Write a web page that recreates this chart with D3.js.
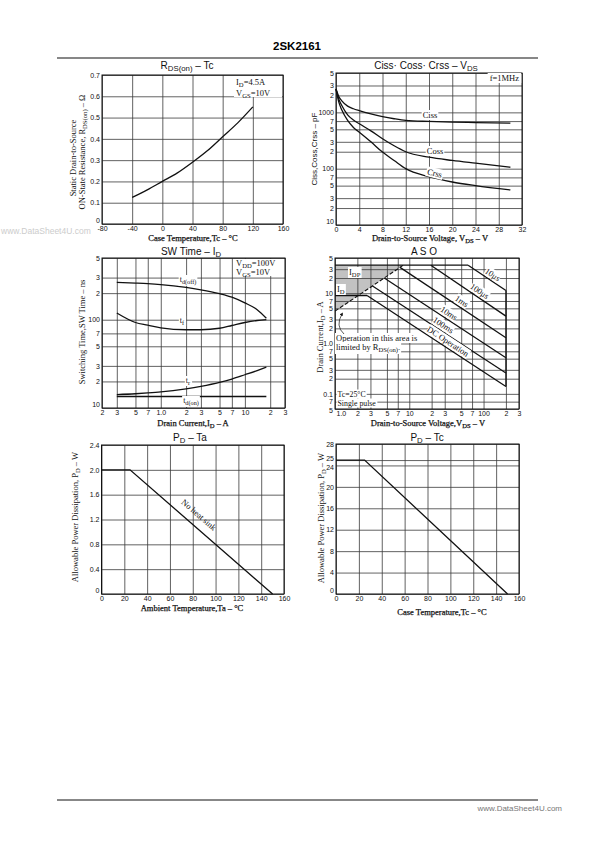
<!DOCTYPE html>
<html><head><meta charset="utf-8">
<script src="https://cdn.jsdelivr.net/npm/d3@7"></script>
<style>body{margin:0;background:#fff}svg{display:block}</style>
</head><body>
<svg id="c" width="595" height="842"></svg>
<script>
// ---------------- DATA ----------------
// R_DS(on) - Tc
const rdsTc = [-40, -20, 0, 20, 40, 60, 80, 100, 120];
const rdsOhm = [0.125, 0.16, 0.2, 0.24, 0.29, 0.345, 0.41, 0.475, 0.55];
const rdsXTicks = [-80, -40, 0, 40, 80, 120, 160];
const rdsYTicks = [0, 0.1, 0.2, 0.3, 0.4, 0.5, 0.6, 0.7];
const rdsYLabels = ["0", "0.1", "0.2", "0.3", "0.4", "0.5", "0.6", "0.7"];

// Ciss, Coss, Crss - VDS
const capVds = [0, 0.5, 1, 2, 3, 4, 6, 8, 10, 12, 16, 20, 24, 30];
const cissPF = [2600, 1900, 1600, 1290, 1160, 1075, 940, 840, 770, 720, 690, 670, 660, 645];
const cossPF = [2600, 1700, 1320, 900, 730, 627, 470, 340, 255, 200, 160, 140, 125, 106];
const crssPF = [2600, 1500, 1100, 720, 540, 445, 300, 197, 140, 100, 72, 58, 50, 42];
const capXTicks = [0, 4, 8, 12, 16, 20, 24, 28, 32];
const capYTicks = [5000, 3000, 2000, 1000, 700, 500, 300, 200, 100, 70, 50, 30, 20, 10];
const capYLabels = ["5", "3", "2", "1000", "7", "5", "3", "2", "100", "7", "5", "3", "2", "10"];

// SW Time - ID
const swId = [0.3, 0.5, 0.7, 1, 2, 3, 5, 7, 10, 14, 18];
const swTdOff = [265, 260, 256, 250, 232, 218, 197, 180, 155, 130, 104];
const swTf = [119, 93, 87, 81, 77, 77, 80, 86, 93, 98, 100];
const swTr = [14.2, 14.5, 14.8, 15.2, 16.5, 17.6, 19.5, 21.3, 23.8, 26.5, 29];
const swTdOnId = [0.3, 18];
const swTdOn = [13.5, 13.5];
const swXTicks = [0.2, 0.3, 0.5, 0.7, 1, 2, 3, 5, 7, 10, 20, 30];
const swXLabels = ["2", "3", "5", "7", "1.0", "2", "3", "5", "7", "10", "2", "3"];
const swYTicks = [500, 300, 200, 100, 70, 50, 30, 20, 10];
const swYLabels = ["5", "3", "2", "100", "7", "5", "3", "2", "10"];

// ASO
const asoIdp = 36, asoId = 9, asoVdss = 200;
const asoRdsV = [1, 8.3];
const asoRdsI = [4.4, 36];
const asoNames = ["10\u03bcs", "100\u03bcs", "1ms", "10ms", "100ms", "DC Operation"];
const asoStartV = [62, 19.5, 7.5, 4.6, 3.2, 2.7];
const asoStartI = [36, 36, 32.6, 20, 13.9, 9];
const asoEndI = [11.3, 3.5, 1.3, 0.52, 0.26, 0.14];
const asoXTicks = [1, 2, 3, 5, 7, 10, 20, 30, 50, 70, 100, 200, 300];
const asoXLabels = ["1.0", "2", "3", "5", "7", "10", "2", "3", "5", "7", "100", "2", "3"];
const asoYTicks = [50, 30, 20, 10, 7, 5, 3, 2, 1, 0.7, 0.5, 0.3, 0.2, 0.1, 0.07, 0.05];
const asoYLabels = ["5", "3", "2", "10", "7", "5", "3", "2", "1.0", "7", "5", "3", "2", "0.1", "7", "5"];

// PD - Ta
const pdTaT = [0, 25, 150];
const pdTaP = [2.0, 2.0, 0];
const pdTaXTicks = [0, 20, 40, 60, 80, 100, 120, 140, 160];
const pdTaYTicks = [0, 0.4, 0.8, 1.2, 1.6, 2.0, 2.4];
const pdTaYLabels = ["0", "0.4", "0.8", "1.2", "1.6", "2.0", "2.4"];

// PD - Tc
const pdTcT = [0, 25, 150];
const pdTcP = [25, 25, 0];
const pdTcXTicks = [0, 20, 40, 60, 80, 100, 120, 140, 160];
const pdTcYTicks = [0, 4, 8, 12, 16, 20, 24, 25, 28];
const pdTcYLabels = ["0", "4", "8", "12", "16", "20", "24", "25", "28"];

// ---------------- DRAWING ----------------
const SANS = "'Liberation Sans', Arial, sans-serif";
const NARROW = "'Liberation Sans Narrow', 'Liberation Sans', Arial, sans-serif";
const SERIF = "'Liberation Serif', 'Times New Roman', serif";
const svg = d3.select("#c");
const under = svg.append("g");
const main = svg.append("g");

function rich(sel, parts) {
  parts.forEach((p, i) => {
    const t = sel.append("tspan").text(p);
    if (i % 2 === 1) t.attr("dy", 2).attr("font-size", "0.78em");
    else if (i > 0) t.attr("dy", -2);
  });
  return sel;
}
function txt(x, y, parts, opt = {}) {
  const t = main.append("text").attr("x", x).attr("y", y)
    .attr("font-family", opt.font || SERIF).attr("font-size", opt.size || 8.5)
    .attr("fill", opt.fill || "#111").attr("text-anchor", opt.anchor || "middle");
  if (opt.rot !== undefined) t.attr("transform", `rotate(${opt.rot},${x},${y})`);
  if (opt.weight) t.attr("font-weight", opt.weight);
  if (opt.stroke) t.attr("stroke", "#111").attr("stroke-width", opt.stroke);
  rich(t, parts);
  return t;
}
function bg(t, pad = 1) {
  const b = t.node().getBBox();
  const r = main.insert("rect", () => t.node())
    .attr("x", b.x - pad).attr("y", b.y).attr("width", b.width + 2 * pad).attr("height", b.height)
    .attr("fill", "#fff");
  const tr = t.attr("transform");
  if (tr) r.attr("transform", tr);
}
function panel(x, y, xt, xl, yt, yl) {
  const g = main.append("g");
  const [x0, x1] = x.range(), [y0, y1] = y.range();
  g.append("g").attr("class", "xax").attr("transform", `translate(0,${y0})`)
    .call(d3.axisBottom(x).tickValues(xt).tickFormat((d, i) => xl ? xl[i] : d)
      .tickSize(-(y0 - y1)).tickPadding(2));
  g.append("g").attr("class", "yax").attr("transform", `translate(${x0},0)`)
    .call(d3.axisLeft(y).tickValues(yt).tickFormat((d, i) => yl ? yl[i] : d)
      .tickSize(-(x1 - x0)).tickPadding(2));
  g.selectAll(".domain").remove();
  g.selectAll(".tick line").attr("stroke", "#3a3a3a").attr("stroke-width", 0.8);
  g.selectAll(".tick text").attr("font-family", NARROW).attr("font-size", 7).attr("fill", "#111");
  g.append("rect").attr("x", x0).attr("y", y1).attr("width", x1 - x0).attr("height", y0 - y1)
    .attr("fill", "none").attr("stroke", "#111").attr("stroke-width", 1);
  return g;
}
function liftBottomY(g, v, dy = "-0.15em") {
  g.select(".yax").selectAll(".tick text").filter(d => d === v).attr("dy", dy);
}
function curve(x, y, xs, ys, c = d3.curveMonotoneX, w = 1.3) {
  const pts = xs.map((v, i) => [v, ys[i]]);
  main.append("path").datum(pts).attr("fill", "none").attr("stroke", "#111").attr("stroke-width", w)
    .attr("d", d3.line().x(d => x(d[0])).y(d => y(d[1])).curve(c));
}
const AX = {stroke: 0.25};

// Header/footer
main.append("text").attr("x", 297).attr("y", 50).attr("text-anchor", "middle")
  .attr("font-family", SANS).attr("font-weight", "bold").attr("font-size", 11.5).text("2SK2161");
main.append("line").attr("x1", 57).attr("x2", 538).attr("y1", 58).attr("y2", 58).attr("stroke", "#111").attr("stroke-width", 1.2);
main.append("line").attr("x1", 57).attr("x2", 538).attr("y1", 800).attr("y2", 800).attr("stroke", "#111").attr("stroke-width", 1);
main.append("text").attr("x", 562).attr("y", 811).attr("text-anchor", "end").attr("font-family", SANS)
  .attr("font-size", 8).attr("fill", "#777").text("www.DataSheet4U.com");
main.append("text").attr("x", 1).attr("y", 234).attr("font-family", SANS)
  .attr("font-size", 8.5).attr("fill", "#ccc").text("www.DataSheet4U.com");

// ---- Chart 1: RDS(on) - Tc
{
  const x = d3.scaleLinear().domain([-80, 160]).range([102, 283]);
  const y = d3.scaleLinear().domain([0, 0.7]).range([224, 75]);
  const g = panel(x, y, rdsXTicks, null, rdsYTicks, rdsYLabels);
  liftBottomY(g, 0);
  curve(x, y, rdsTc, rdsOhm);
  main.append("rect").attr("x", 234).attr("y", 76).attr("width", 48).attr("height", 21).attr("fill", "#fff");
  txt(236, 85, ["I", "D", "=4.5A"], {anchor: "start", size: 8.5});
  txt(236, 95.5, ["V", "GS", "=10V"], {anchor: "start", size: 8.5});
  txt(187, 69, ["R", "DS(on)", "   \u2013   Tc"], {font: SANS, size: 10});
  txt(76, 158, ["Static Drain-to-Source"], {rot: -90});
  txt(85, 152, ["ON-State Resistance, R", "DS(on)", " \u2013 \u03a9"], {rot: -90});
  txt(193, 241, ["Case Temperature,Tc \u2013 \u00b0C"], AX);
}

// ---- Chart 2: Capacitance
{
  const x = d3.scaleLinear().domain([0, 32]).range([336, 522]);
  const y = d3.scaleLog().domain([10, 5000]).range([225, 73]);
  const g = panel(x, y, capXTicks, null, capYTicks, capYLabels);
  liftBottomY(g, 10);
  const fb = txt(519, 81, ["f=1MHz"], {anchor: "end", size: 8.5}); bg(fb, 2);
  curve(x, y, capVds, cissPF);
  curve(x, y, capVds, cossPF);
  curve(x, y, capVds, crssPF);
  bg(txt(430, 118, ["Ciss"], {size: 8.5}));
  bg(txt(435, 154, ["Coss"], {size: 8.5}));
  bg(txt(434, 176, ["Crss"], {size: 8.5, rot: 14}));
  txt(426, 69, ["Ciss\u00b7 Coss\u00b7 Crss   \u2013   V", "DS"], {font: SANS, size: 10});
  txt(317, 149, ["Ciss,Coss,Crss \u2013 pF"], {rot: -90, font: SANS, size: 8});
  txt(430, 241, ["Drain-to-Source Voltage, V", "DS", " \u2013 V"], AX);
}

// ---- Chart 3: SW Time
{
  const x = d3.scaleLog().domain([0.2, 30]).range([102, 285]);
  const y = d3.scaleLog().domain([10, 500]).range([408, 258]);
  const g = panel(x, y, swXTicks, swXLabels, swYTicks, swYLabels);
  liftBottomY(g, 10);
  main.append("rect").attr("x", 234).attr("y", 259).attr("width", 50).attr("height", 17).attr("fill", "#fff");
  txt(236, 266, ["V", "DD", "=100V"], {anchor: "start"});
  txt(236, 275, ["V", "GS", "=10V"], {anchor: "start"});
  curve(x, y, swId, swTdOff);
  curve(x, y, swId, swTf);
  curve(x, y, swId, swTr);
  curve(x, y, swTdOnId, swTdOn, d3.curveLinear);
  bg(txt(188, 282, ["t", "d(off)"], {size: 8}));
  bg(txt(182, 323, ["t", "f"], {size: 8}));
  bg(txt(188, 383, ["t", "r"], {size: 8}));
  bg(txt(191, 403, ["t", "d(on)"], {size: 8}));
  txt(191, 254.5, ["SW Time   \u2013   I", "D"], {font: SANS, size: 10});
  txt(85, 332, ["Switching Time,SW Time \u2013 ns"], {rot: -90});
  txt(193, 426, ["Drain Current,I", "D", " \u2013 A"], AX);
}

// ---- Chart 4: ASO
{
  const x = d3.scaleLog().domain([1, 300]).range([335, 519]);
  const y = d3.scaleLog().domain([0.05, 50]).range([409, 258]);
  const poly = [[1, asoIdp], [asoRdsV[1], asoIdp], [asoRdsV[0], asoRdsI[0]]];
  under.append("path").attr("d", d3.line().x(d => x(d[0])).y(d => y(d[1]))(poly) + "Z").attr("fill", "#c2c2c2");
  const g = panel(x, y, asoXTicks, asoXLabels, asoYTicks, asoYLabels);
  liftBottomY(g, 0.05, "0.45em");
  g.select(".xax").selectAll(".tick text").filter(d => d === 1).attr("text-anchor", "start").attr("x", 1);
  const seg = (a, b, w = 1.3, dash) => {
    const p = main.append("line").attr("x1", x(a[0])).attr("y1", y(a[1])).attr("x2", x(b[0])).attr("y2", y(b[1]))
      .attr("stroke", "#111").attr("stroke-width", w);
    if (dash) p.attr("stroke-dasharray", dash);
  };
  seg([1, asoIdp], [asoStartV[0], asoIdp]);
  seg([1, asoId], [asoStartV[5], asoId]);
  asoNames.forEach((n, i) => seg([asoStartV[i], asoStartI[i]], [asoVdss, asoEndI[i]]));
  seg([asoVdss, asoEndI[0]], [asoVdss, asoEndI[5]]);
  seg([asoRdsV[0], asoRdsI[0]], [asoRdsV[1], asoRdsI[1]], 1.1, "4,2");
  const labV = [120, 80, 46, 31, 26, 30];
  const labOff = [3, 3, 3, 3, 3, 3];
  asoNames.forEach((n, i) => {
    const p0 = [x(asoStartV[i]), y(asoStartI[i])], p1 = [x(asoVdss), y(asoEndI[i])];
    const t = (x(labV[i]) - p0[0]) / (p1[0] - p0[0]);
    const px = p0[0] + t * (p1[0] - p0[0]), py = p0[1] + t * (p1[1] - p0[1]);
    const ang = Math.atan2(p1[1] - p0[1], p1[0] - p0[0]);
    const ox = px + Math.sin(ang) * labOff[i], oy = py - Math.cos(ang) * labOff[i];
    bg(txt(ox, oy, [n], {size: 8.5, rot: ang * 180 / Math.PI}), 0);
  });
  bg(txt(349, 275, ["I", "DP"], {anchor: "start", size: 8.5}));
  bg(txt(337, 292, ["I", "D"], {anchor: "start", size: 8.5}));
  bg(txt(336, 341, ["Operation in this area is"], {anchor: "start", size: 8.5}));
  bg(txt(336, 350, ["limited by R", "DS(on)", "."], {anchor: "start", size: 8.5}));
  svg.append("defs").append("marker").attr("id", "ah").attr("viewBox", "0 0 6 6").attr("refX", 3).attr("refY", 3)
    .attr("markerWidth", 5).attr("markerHeight", 5).attr("orient", "auto")
    .append("path").attr("d", "M0,0L6,3L0,6Z").attr("fill", "#111");
  main.append("path").attr("d", "M344,334 Q335,326 342,314").attr("fill", "none").attr("stroke", "#111")
    .attr("stroke-width", 0.7).attr("marker-end", "url(#ah)");
  bg(txt(337.5, 396.5, ["Tc=25\u00b0C"], {anchor: "start", size: 7.8}));
  bg(txt(337.5, 405.5, ["Single pulse"], {anchor: "start", size: 7.8}));
  txt(424, 254.5, ["A S O"], {font: SANS, size: 10});
  txt(323, 337, ["Drain Current,I", "D", " \u2013 A"], {rot: -90});
  txt(428, 425.5, ["Drain-to-Source Voltage,V", "DS", " \u2013 V"], AX);
}

// ---- Chart 5: PD - Ta
{
  const x = d3.scaleLinear().domain([0, 160]).range([101.5, 284]);
  const y = d3.scaleLinear().domain([0, 2.4]).range([594, 445]);
  const g = panel(x, y, pdTaXTicks, null, pdTaYTicks, pdTaYLabels);
  liftBottomY(g, 0);
  curve(x, y, pdTaT, pdTaP, d3.curveLinear);
  const ang = Math.atan2(y(pdTaP[2]) - y(pdTaP[1]), x(pdTaT[2]) - x(pdTaT[1])) * 180 / Math.PI;
  txt(197, 517, ["No heat sink"], {rot: ang, size: 8.5});
  txt(190, 441, ["P", "D", "   \u2013   Ta"], {font: SANS, size: 10});
  txt(78, 517, ["Allowable Power Dissipation, P", "D", " \u2013 W"], {rot: -90});
  txt(192, 611, ["Ambient Temperature,Ta \u2013 \u00b0C"], AX);
}

// ---- Chart 6: PD - Tc
{
  const x = d3.scaleLinear().domain([0, 160]).range([336, 519]);
  const y = d3.scaleLinear().domain([0, 28]).range([594, 444]);
  const g = panel(x, y, pdTcXTicks, null, pdTcYTicks, pdTcYLabels);
  liftBottomY(g, 0);
  g.select(".yax").selectAll(".tick text").filter(d => d === 25).attr("dy", "0.1em");
  g.select(".yax").selectAll(".tick text").filter(d => d === 24).attr("dy", "0.6em");
  curve(x, y, pdTcT, pdTcP, d3.curveLinear);
  txt(427, 441, ["P", "D", "   \u2013   Tc"], {font: SANS, size: 10});
  txt(324, 518, ["Allowable Power Dissipation, P", "D", " \u2013 W"], {rot: -90});
  txt(442, 614.5, ["Case Temperature,Tc \u2013 \u00b0C"], AX);
}
</script>
</body></html>
